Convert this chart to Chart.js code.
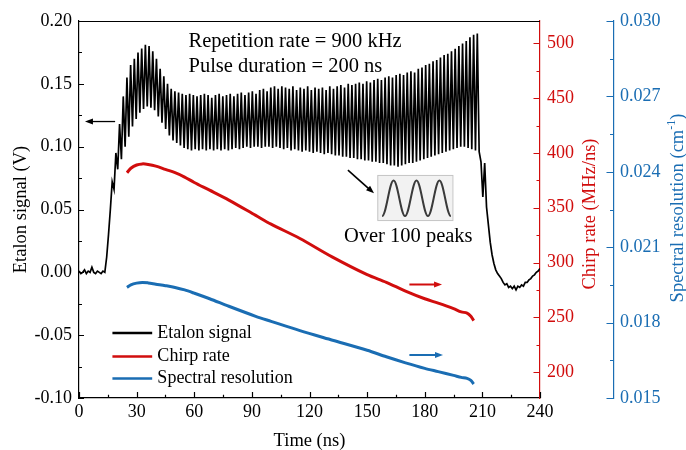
<!DOCTYPE html>
<html>
<head>
<meta charset="utf-8">
<script src="https://cdn.jsdelivr.net/npm/chart.js@4.4.0/dist/chart.umd.min.js"></script>
<style>
  html, body { margin: 0; padding: 0; background: #fff; }
  #wrap { width: 686px; height: 450px; }
</style>
</head>
<body>
<div id="wrap"><canvas id="chart" width="686" height="450"></canvas></div>
<script>
// etalon trace, one sample every 0.96 ns from 0 to 240 ns (peaks / valleys)
const etalonStep = 0.96;
const etalonSignal = [
  0.001, -0.001, 0.000, 0.002, -0.001, 0.001, 0.000, 0.004, 0.000, -0.001,
  0.001, 0.000, -0.001, 0.001, 0.000, 0.012, 0.030, 0.050, 0.072, 0.066,
  0.095, 0.082, 0.118, 0.090, 0.140, 0.100, 0.155, 0.108, 0.165, 0.116,
  0.170, 0.122, 0.175, 0.127, 0.178, 0.130, 0.181, 0.132, 0.180, 0.131,
  0.176, 0.129, 0.170, 0.124, 0.162, 0.119, 0.156, 0.114, 0.150, 0.109,
  0.146, 0.105, 0.144, 0.103, 0.143, 0.101, 0.142, 0.099, 0.141, 0.098,
  0.142, 0.097, 0.141, 0.098, 0.140, 0.097, 0.141, 0.098, 0.142, 0.097,
  0.141, 0.098, 0.139, 0.097, 0.141, 0.098, 0.142, 0.097, 0.140, 0.098,
  0.141, 0.097, 0.142, 0.098, 0.140, 0.099, 0.142, 0.098, 0.143, 0.099,
  0.141, 0.100, 0.143, 0.099, 0.144, 0.100, 0.142, 0.100, 0.145, 0.099,
  0.146, 0.100, 0.144, 0.100, 0.147, 0.099, 0.148, 0.100, 0.146, 0.099,
  0.148, 0.098, 0.147, 0.099, 0.146, 0.097, 0.148, 0.098, 0.145, 0.097,
  0.147, 0.096, 0.146, 0.097, 0.148, 0.096, 0.145, 0.095, 0.147, 0.096,
  0.146, 0.095, 0.147, 0.094, 0.145, 0.095, 0.148, 0.094, 0.146, 0.093,
  0.148, 0.093, 0.149, 0.092, 0.147, 0.092, 0.150, 0.091, 0.149, 0.091,
  0.150, 0.090, 0.151, 0.090, 0.150, 0.089, 0.152, 0.089, 0.151, 0.088,
  0.153, 0.088, 0.154, 0.087, 0.153, 0.087, 0.155, 0.086, 0.156, 0.085,
  0.155, 0.085, 0.157, 0.084, 0.158, 0.085, 0.157, 0.086, 0.159, 0.087,
  0.160, 0.087, 0.159, 0.088, 0.162, 0.089, 0.163, 0.090, 0.165, 0.091,
  0.166, 0.092, 0.168, 0.093, 0.169, 0.094, 0.171, 0.095, 0.173, 0.096,
  0.174, 0.097, 0.176, 0.098, 0.178, 0.099, 0.180, 0.100, 0.182, 0.100,
  0.184, 0.099, 0.187, 0.098, 0.189, 0.097, 0.190, 0.096, 0.088, 0.060,
  0.087, 0.052, 0.038, 0.024, 0.014, 0.007, 0.002, -0.001, -0.003, -0.005,
  -0.008, -0.010, -0.009, -0.012, -0.011, -0.013, -0.011, -0.014, -0.011, -0.012,
  -0.010, -0.011, -0.008, -0.008, -0.006, -0.005, -0.003, -0.002, 0.000, 0.001,
  0.003
];

// chirp rate and spectral resolution during the sweep
const sweepTime   = [25, 27, 30, 33, 36, 40, 45, 50, 55, 60, 68, 78, 92, 100, 115, 132, 150, 160, 170, 180, 187, 195, 199, 202, 204, 205.5];
const chirpRate   = [382, 386, 389, 390, 389.5, 388, 385, 382, 378, 373, 366, 357, 343, 335, 322, 305, 289, 282, 274, 267, 263, 258, 255, 254, 251, 247];
const spectralRes = [0.01940, 0.01950, 0.01957, 0.01960, 0.01958, 0.01953, 0.01947, 0.01940, 0.01930, 0.01917, 0.01895, 0.01865, 0.01825, 0.01805,
                     0.01768, 0.01730, 0.01690, 0.01664, 0.01640, 0.01618, 0.01605, 0.01590, 0.01582, 0.01578, 0.01570, 0.01556];

const timeTicks   = [0, 30, 60, 90, 120, 150, 180, 210, 240];
const signalTicks = [-0.10, -0.05, 0.00, 0.05, 0.10, 0.15, 0.20];
const chirpTicks  = [200, 250, 300, 350, 400, 450, 500];
const resTicks    = [0.015, 0.018, 0.021, 0.024, 0.027, 0.030];

const serif = "'Liberation Serif', 'Times New Roman', serif";
const red = '#d10d0d';
const blue = '#1a6db3';

const etalonPts = etalonSignal.map((v, i) => ({ x: i * etalonStep, y: v }));
const chirpPts = sweepTime.map((t, i) => ({ x: t, y: chirpRate[i] }));
const resPts = sweepTime.map((t, i) => ({ x: t, y: spectralRes[i] }));

function inwardTicks(ctx, scale, majors, dir, bigLen, smallLen, color) {
  const marks = [];
  majors.forEach((v, i) => {
    marks.push([v, bigLen]);
    if (i < majors.length - 1) marks.push([(v + majors[i + 1]) / 2, smallLen]);
  });
  ctx.strokeStyle = color;
  ctx.lineWidth = 1.2;
  ctx.beginPath();
  marks.forEach(([v, len]) => {
    const p = Math.round(scale.getPixelForValue(v)) + 0.5;
    if (dir === 'up') { ctx.moveTo(p, scale.top); ctx.lineTo(p, scale.top - len); }
    else if (dir === 'right') { ctx.moveTo(scale.right, p); ctx.lineTo(scale.right + len, p); }
    else { ctx.moveTo(scale.left, p); ctx.lineTo(scale.left - len, p); }
  });
  ctx.stroke();
}

function arrow(ctx, x1, y1, x2, y2, color, width, head) {
  const a = Math.atan2(y2 - y1, x2 - x1);
  const c = Math.cos(a), s = Math.sin(a);
  ctx.strokeStyle = color;
  ctx.fillStyle = color;
  ctx.lineWidth = width;
  ctx.beginPath();
  ctx.moveTo(x1, y1);
  ctx.lineTo(x2 - c * head * 0.8, y2 - s * head * 0.8);
  ctx.stroke();
  ctx.beginPath();
  ctx.moveTo(x2, y2);
  ctx.lineTo(x2 - head * c + head * 0.38 * s, y2 - head * s - head * 0.38 * c);
  ctx.lineTo(x2 - head * c - head * 0.38 * s, y2 - head * s + head * 0.38 * c);
  ctx.closePath();
  ctx.fill();
}

function verticalTitle(ctx, parts, cx, cy, color) {
  // parts: [text, size, raise]
  let total = 0;
  parts.forEach(p => { ctx.font = p[1] + 'px ' + serif; total += ctx.measureText(p[0]).width; });
  ctx.save();
  ctx.translate(cx, cy);
  ctx.rotate(-Math.PI / 2);
  ctx.fillStyle = color;
  ctx.textBaseline = 'middle';
  ctx.textAlign = 'left';
  let pos = -total / 2;
  parts.forEach(p => {
    ctx.font = p[1] + 'px ' + serif;
    ctx.fillText(p[0], pos, -p[2]);
    pos += ctx.measureText(p[0]).width;
  });
  ctx.restore();
}

const decorations = {
  id: 'decorations',
  afterDraw(chart) {
    const { ctx, chartArea: area, scales: { x, y, y1, y2 } } = chart;
    ctx.save();

    // top edge of the frame
    ctx.strokeStyle = '#000';
    ctx.lineWidth = 1.2;
    ctx.beginPath();
    ctx.moveTo(area.left, area.top + 0.5);
    ctx.lineTo(area.right, area.top + 0.5);
    ctx.stroke();

    inwardTicks(ctx, x, timeTicks, 'up', 6, 3.3, '#000');
    inwardTicks(ctx, y, signalTicks, 'right', 5, 3, '#000');
    inwardTicks(ctx, y1, chirpTicks, 'left', 6.5, 3.5, red);
    inwardTicks(ctx, y2, resTicks, 'left', 7.5, 4, blue);

    // right-hand axis titles, read bottom to top
    verticalTitle(ctx, [['Chirp rate (MHz/ns)', 18.5, 0]], y1.left + 50, 214, red);
    verticalTitle(ctx, [['Spectral resolution (cm', 18.5, 0], ['-1', 12, 6], [')', 18.5, 0]], y2.left + 64, 208, blue);

    // text notes
    ctx.fillStyle = '#000';
    ctx.font = '20.5px ' + serif;
    ctx.textBaseline = 'alphabetic';
    ctx.textAlign = 'left';
    ctx.fillText('Repetition rate = 900 kHz', x.getPixelForValue(57), y.getPixelForValue(0.179));
    ctx.fillText('Pulse duration = 200 ns', x.getPixelForValue(57), y.getPixelForValue(0.1595));
    ctx.textAlign = 'center';
    ctx.fillText('Over 100 peaks', x.getPixelForValue(171.4), y.getPixelForValue(0.0241));

    // arrows telling which axis each curve belongs to
    arrow(ctx, x.getPixelForValue(18.8), y.getPixelForValue(0.12), x.getPixelForValue(3.1), y.getPixelForValue(0.12), '#000', 1.3, 8);
    arrow(ctx, x.getPixelForValue(172), y1.getPixelForValue(280), x.getPixelForValue(189), y1.getPixelForValue(280), red, 2, 8);
    arrow(ctx, x.getPixelForValue(172), y2.getPixelForValue(0.01671), x.getPixelForValue(189.5), y2.getPixelForValue(0.01671), blue, 2, 8);
    arrow(ctx, x.getPixelForValue(140), y.getPixelForValue(0.0814), x.getPixelForValue(153.6), y.getPixelForValue(0.0629), '#000', 1.6, 8);

    // inset with a few fringes
    const bx0 = x.getPixelForValue(155.3), bx1 = x.getPixelForValue(194.4);
    const by0 = y.getPixelForValue(0.0775), by1 = y.getPixelForValue(0.0416);
    ctx.fillStyle = '#f2f2f2';
    ctx.fillRect(bx0, by0, bx1 - bx0, by1 - by0);
    ctx.strokeStyle = '#c4c4c4';
    ctx.lineWidth = 1;
    ctx.strokeRect(bx0 + 0.5, by0 + 0.5, bx1 - bx0, by1 - by0);
    const sx0 = x.getPixelForValue(157.8), sx1 = x.getPixelForValue(193.6);
    const top = y.getPixelForValue(0.0731), bot = y.getPixelForValue(0.0448);
    const h = (sx1 - sx0) / 6;
    ctx.strokeStyle = '#3a3a3a';
    ctx.lineWidth = 2;
    ctx.beginPath();
    ctx.moveTo(sx0, bot);
    for (let k = 0; k < 6; k++) {
      const a0 = sx0 + k * h, a1 = a0 + h;
      const from = k % 2 === 0 ? bot : top, to = k % 2 === 0 ? top : bot;
      ctx.bezierCurveTo(a0 + h * 0.3642, from, a1 - h * 0.3642, to, a1, to);
    }
    ctx.stroke();

    // legend
    const rows = [-0.0483, -0.0670, -0.0845];
    ctx.font = '18px ' + serif;
    ctx.textAlign = 'left';
    ctx.textBaseline = 'middle';
    chart.data.datasets.forEach((ds, i) => {
      const ly = y.getPixelForValue(rows[i]);
      ctx.strokeStyle = ds.borderColor;
      ctx.lineWidth = 2.5;
      ctx.beginPath();
      ctx.moveTo(x.getPixelForValue(17.4), ly);
      ctx.lineTo(x.getPixelForValue(38.1), ly);
      ctx.stroke();
      ctx.fillStyle = '#000';
      ctx.fillText(ds.label, x.getPixelForValue(40.8), ly);
    });

    ctx.restore();
  }
};

const tickFont = { family: serif, size: 18 };

new Chart(document.getElementById('chart'), {
  type: 'line',
  data: {
    datasets: [
      { label: 'Etalon signal', data: etalonPts, yAxisID: 'y', borderColor: '#000', borderWidth: 1.7, pointRadius: 0, tension: 0 },
      { label: 'Chirp rate', data: chirpPts, yAxisID: 'y1', borderColor: red, borderWidth: 3, pointRadius: 0, tension: 0.3 },
      { label: 'Spectral resolution', data: resPts, yAxisID: 'y2', borderColor: blue, borderWidth: 3, pointRadius: 0, tension: 0.3 }
    ]
  },
  options: {
    responsive: false,
    animation: false,
    layout: { padding: { top: 21, left: 0, right: 0, bottom: 0 } },
    plugins: { legend: { display: false }, tooltip: { enabled: false } },
    scales: {
      x: {
        type: 'linear', position: 'bottom', min: 0, max: 240,
        afterBuildTicks: s => { s.ticks = timeTicks.map(v => ({ value: v })); },
        afterFit: s => { s.height = 52; },
        grid: { display: false, drawTicks: false },
        border: { display: true, color: '#000', width: 1.2 },
        ticks: { font: tickFont, color: '#000', padding: 3, maxRotation: 0, autoSkip: false },
        title: { display: true, text: 'Time (ns)', color: '#000', font: { family: serif, size: 18.5, lineHeight: 0.92 }, padding: 0 }
      },
      y: {
        position: 'left', min: -0.10, max: 0.20,
        afterBuildTicks: s => { s.ticks = signalTicks.map(v => ({ value: v })); },
        afterFit: s => { s.width = 79; },
        grid: { display: false, drawTicks: false },
        border: { display: true, color: '#000', width: 1.2 },
        ticks: { font: tickFont, color: '#000', padding: 7, autoSkip: false, callback: v => v.toFixed(2) },
        title: { display: true, text: 'Etalon signal (V)', color: '#000', font: { family: serif, size: 18.5 }, padding: { top: 10, bottom: 0 } }
      },
      y1: {
        position: 'right', min: 176.5, max: 520.3,
        afterBuildTicks: s => { s.ticks = chirpTicks.map(v => ({ value: v })); },
        afterFit: s => { s.width = 74; },
        grid: { display: false, drawTicks: false },
        border: { display: true, color: red, width: 1.2 },
        ticks: { font: tickFont, color: red, padding: 7, autoSkip: false, callback: v => String(v) }
      },
      y2: {
        position: 'right', min: 0.015, max: 0.030,
        afterBuildTicks: s => { s.ticks = resTicks.map(v => ({ value: v })); },
        afterFit: s => { s.width = 72; },
        grid: { display: false, drawTicks: false },
        border: { display: true, color: blue, width: 1.2 },
        ticks: { font: tickFont, color: blue, padding: 6, autoSkip: false, callback: v => v.toFixed(3) }
      }
    }
  },
  plugins: [decorations]
});
</script>
</body>
</html>
